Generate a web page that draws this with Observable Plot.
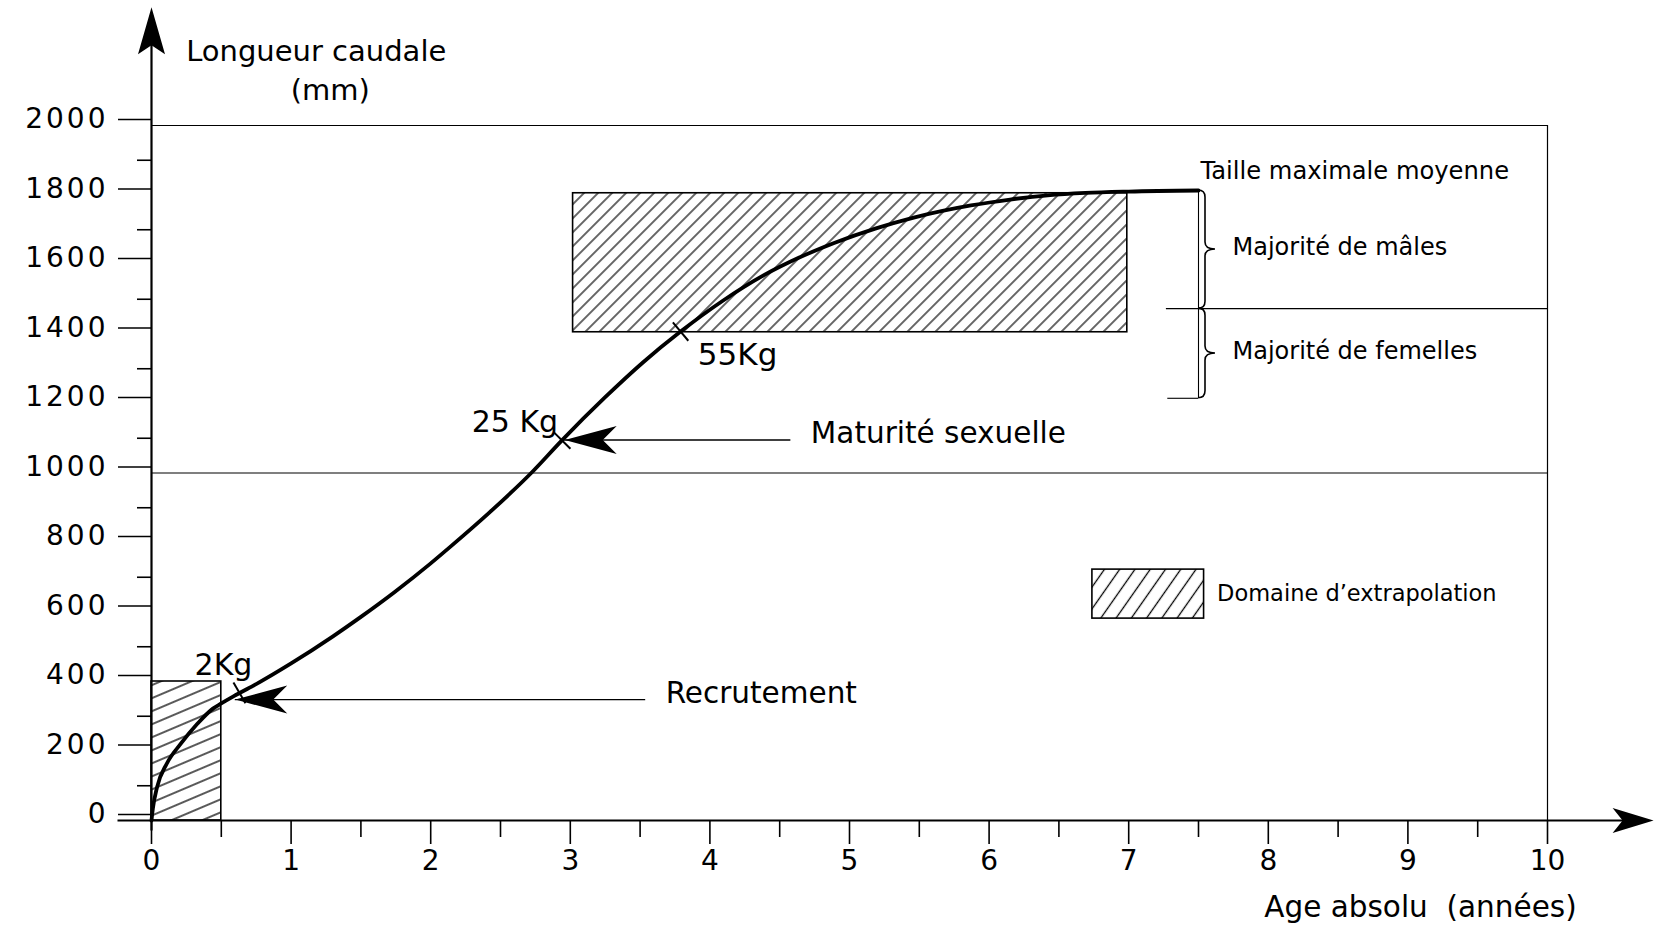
<!DOCTYPE html>
<html><head><meta charset="utf-8">
<script src="https://cdn.jsdelivr.net/npm/d3@7"></script>
<script src="https://cdn.jsdelivr.net/npm/@observablehq/plot@0.6"></script>
<style>body{margin:0;background:#fff}#chart svg{display:block}</style>
</head><body><div id="chart"></div>
<script>
// ---- data ----
const ageTicks = [0,1,2,3,4,5,6,7,8,9,10];
const ageMinor = [0.5,1.5,2.5,3.5,4.5,5.5,6.5,7.5,8.5,9.5];
const lenTicks = [0,200,400,600,800,1000,1200,1400,1600,1800,2000];
const lenMinor = [100,300,500,700,900,1100,1300,1500,1700,1900];

// growth curve (age in years, caudal length in mm)
const curveAge = [0,0.01,0.04,0.11,0.21,0.33,0.44,0.5,0.59,0.73,1.0,1.3,1.5,1.74,2.0,2.15,2.42,2.72,2.94,3.25,3.52,3.79,4.09,4.39,4.64,4.89,5.19,5.46,5.87,6.15,6.42,6.69,7.0,7.5];
const curveLen = [0,35,96,164,221,279,322,337,358,388,452,530,586,657,740,791,886,1000,1094,1218,1318,1407,1495,1570,1620,1662,1704,1735,1770,1787,1799,1806,1810,1813];

// weight markers on the curve
const markerLabel = ["2Kg","25 Kg","55Kg"];
const markerAge = [0.63,2.94,3.79];
const markerLen = [367,1094,1407];

// extrapolation domains (hatched)
const domainAge1 = [0, 3.02];
const domainAge2 = [0.5, 6.99];
const domainLen1 = [0, 1405];
const domainLen2 = [400, 1805];

// arrows
const arrowLabel = ["Recrutement","Maturité sexuelle"];
const arrowFrom = [3.54, 4.58];
const arrowTo = [0.6, 2.96];
const arrowLen = [348, 1095];

// braces (sex majority)
const braceLabel = ["Majorité de mâles","Majorité de femelles"];
const braceTop = [1813, 1473];
const braceBottom = [1473, 1215];
const braceAge = 7.5;

// ---- tables ----
const curve = curveAge.map((a,i)=>({age:a, len:curveLen[i]}));
const markers = markerLabel.map((l,i)=>({label:l, age:markerAge[i], len:markerLen[i]}));
const domains = domainAge1.map((a,i)=>({x1:a, x2:domainAge2[i], y1:domainLen1[i], y2:domainLen2[i]}));
const arrows = arrowLabel.map((l,i)=>({label:l, from:arrowFrom[i], to:arrowTo[i], len:arrowLen[i]}));
const braces = braceLabel.map((l,i)=>({label:l, age:braceAge, top:braceTop[i], bottom:braceBottom[i], mid:(braceTop[i]+braceBottom[i])/2}));

// ---- symbols ----
function barb(L, W, N){ return {draw(ctx){ ctx.moveTo(0,0); ctx.lineTo(-L,-W); ctx.lineTo(-N,0); ctx.lineTo(-L,W); ctx.closePath(); }}; }
const tickSym = {draw(ctx){ ctx.moveTo(0,-12); ctx.lineTo(0,12); }};
const markerAngles = [-30,-45,-40];

const FONT = "DejaVu Sans";

function braceMark(index, scales){
  const g = d3.create("svg:g").attr("fill","none").attr("stroke","black").attr("stroke-width",1.6);
  for (const b of braces){
    const x = scales.x(b.age), ya = scales.y(b.top), yb = scales.y(b.bottom), ym = (ya+yb)/2, r = 7;
    g.append("path").attr("d",
      `M${x},${ya} Q${x+r},${ya} ${x+r},${ya+r} L${x+r},${ym-r} Q${x+r},${ym} ${x+r+10},${ym} Q${x+r},${ym} ${x+r},${ym+r} L${x+r},${yb-r} Q${x+r},${yb} ${x},${yb}`);
  }
  return g.node();
}

const svg = Plot.plot({
  width:1654, height:929,
  marginLeft:151, marginRight:107, marginTop:125, marginBottom:109,
  x:{domain:[0,10]}, y:{domain:[0,2000]},
  style:{fontFamily:FONT, color:"black", background:"white", overflow:"visible"},
  marks:[
    // frame lines
    Plot.ruleY([1000,2000], {x1:0, x2:10, stroke:"black", strokeWidth:1.2}),
    Plot.ruleX([10], {y1:0, y2:2000, stroke:"black", strokeWidth:1.2}),
    // hatched domains
    Plot.rect(domains.slice(0,1), {x1:"x1", x2:"x2", y1:"y1", y2:"y2", fill:"url(#hatchA)", stroke:"black", strokeWidth:1.6}),
    Plot.rect(domains.slice(1,2), {x1:"x1", x2:"x2", y1:"y1", y2:"y2", fill:"url(#hatchB)", stroke:"black", strokeWidth:1.6}),
    // legend swatch
    Plot.rect([0], {x1:6.74, x2:7.54, y1:581, y2:722, fill:"url(#hatchC)", stroke:"black", strokeWidth:1.6}),
    Plot.text(["Domaine d’extrapolation"], {x:7.54, y:651, text:d=>d, textAnchor:"start", dx:13, fontSize:22.5}),
    // axes
    Plot.axisY(lenTicks, {anchor:"left", tickSize:33, tickPadding:10, tickFormat:d3.format("d"), fontSize:28, dy:-6, strokeWidth:1.6, label:null}),
    Plot.axisY(lenMinor, {anchor:"left", tickSize:14, tickFormat:()=>"", strokeWidth:1.6, label:null}),
    Plot.axisX(ageTicks, {anchor:"bottom", tickSize:24, tickPadding:6, tickFormat:d3.format("d"), fontSize:28, strokeWidth:1.6, label:null}),
    Plot.axisX(ageMinor, {anchor:"bottom", tickSize:17, tickFormat:()=>"", strokeWidth:1.6, label:null}),
    Plot.ruleX([0], {y1:-30, y2:2300, stroke:"black", strokeWidth:2.2}),
    Plot.ruleY([0], {x1:-0.24, x2:10.6, stroke:"black", strokeWidth:2}),
    Plot.dot([0], {x:0, y:2340, symbol:barb(47,13.5,38), rotate:-90, fill:"black", stroke:"none"}),
    Plot.dot([0], {x:10.76, y:0, symbol:barb(41,12.5,31), rotate:0, fill:"black", stroke:"none"}),
    // axis titles
    Plot.text(["Longueur caudale"], {x:1.18, y:2213, text:d=>d, fontSize:29}),
    Plot.text(["(mm)"], {x:1.28, y:2101, text:d=>d, fontSize:29}),
    Plot.text(["Age absolu\u00a0 (années)"], {x:9.09, y:-250, text:d=>d, fontSize:29.5}),
    // braces and separators
    Plot.ruleY([1473], {x1:7.27, x2:10, stroke:"black", strokeWidth:1.1}),
    Plot.ruleY([1215], {x1:7.28, x2:7.5, stroke:"black", strokeWidth:1.1}),
    Plot.ruleX([7.5], {y1:1215, y2:1813, stroke:"black", strokeWidth:1.1}),
    braceMark,
    Plot.text(braces, {x:"age", y:"mid", text:"label", textAnchor:"start", dx:34, dy:-2, fontSize:24}),
    Plot.text(["Taille maximale moyenne"], {x:7.5, y:1868, text:d=>d, textAnchor:"start", dx:2, fontSize:24.2}),
    // curve
    Plot.line(curve, {x:"age", y:"len", curve:"monotone-x", stroke:"black", strokeWidth:3.8}),
    // markers
    Plot.dot(markers, {x:"age", y:"len", symbol:tickSym, rotate:(d,i)=>markerAngles[i], fill:"none", stroke:"black", strokeWidth:2}),
    Plot.text(markers.slice(0,1), {x:"age", y:"len", text:"label", dx:-16, dy:-28, fontSize:30}),
    Plot.text(markers.slice(1,2), {x:"age", y:"len", text:"label", dx:-47, dy:-18, fontSize:30}),
    Plot.text(markers.slice(2,3), {x:"age", y:"len", text:"label", dx:57, dy:24, fontSize:31}),
    // arrows
    Plot.ruleY(arrows, {y:"len", x1:"from", x2:"to", stroke:"black", strokeWidth:1.3}),
    Plot.dot(arrows, {x:"to", y:"len", symbol:barb(52,14,38), rotate:180, fill:"black", stroke:"none"}),
    Plot.text(arrows, {x:"from", y:"len", text:"label", textAnchor:"start", dx:20, dy:-6, fontSize:29.5})
  ]
});

// hatch patterns
const defs = d3.select(svg).insert("defs", ":first-child");
function hatch(id, angle, spacing, sw){
  const p = defs.append("pattern").attr("id", id).attr("patternUnits","userSpaceOnUse")
    .attr("width", spacing).attr("height", spacing).attr("patternTransform", `rotate(${angle})`);
  p.append("line").attr("x1",-1).attr("x2",spacing+1).attr("y1",spacing/2).attr("y2",spacing/2)
    .attr("stroke","black").attr("stroke-width",sw);
}
hatch("hatchA", -23, 12, 1.3);
hatch("hatchB", -45, 9.9, 1.2);
hatch("hatchC", -55, 12.5, 1.3);

d3.select(svg).selectAll('g[aria-label="y-axis tick label"] text').style("letter-spacing","3px");

document.getElementById("chart").appendChild(svg);
</script>
</body></html>
